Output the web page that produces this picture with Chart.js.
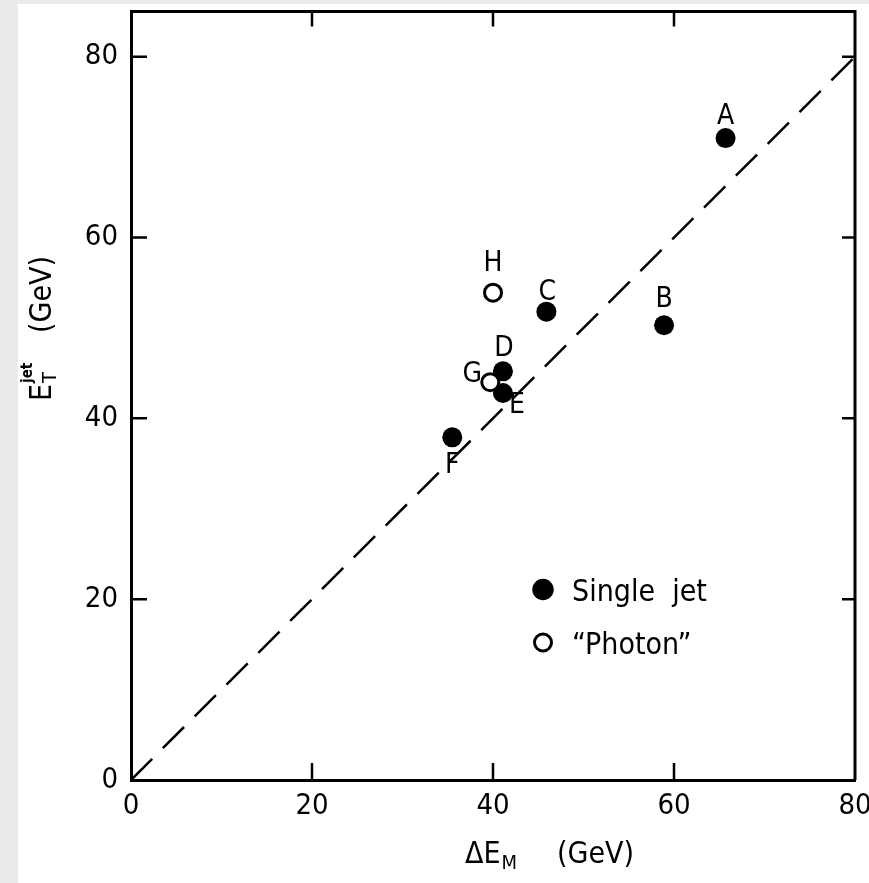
<!DOCTYPE html>
<html>
<head>
<meta charset="utf-8">
<script src="https://cdn.jsdelivr.net/npm/chart.js@4.4.1/dist/chart.umd.min.js"></script>
<style>
  html, body { margin: 0; padding: 0; }
  body { width: 869px; height: 883px; background: #ebebeb; position: relative; overflow: hidden; }
  #panel { position: absolute; left: 18px; top: 4px; right: 0; bottom: 0; background: #fff; }
  #plot { position: absolute; left: 0; top: 0; }
</style>
</head>
<body>
<div id="panel"></div>
<canvas id="plot" width="869" height="883"></canvas>
<script>
// events
const jetNames = ["A", "B", "C", "D", "E", "F"];
const jetX = [65.7, 58.9, 45.9, 41.1, 41.1, 35.5];
const jetY = [71.0, 50.3, 51.8, 45.2, 42.8, 37.9];

const photonNames = ["G", "H"];
const photonX = [39.7, 40.0];
const photonY = [44.0, 53.9];

// the E_T = dE line
const diagX = [0, 80];
const diagY = [0, 80];

const xTicks = [0, 20, 40, 60, 80];
const yTicks = [0, 20, 40, 60, 80];

const FONT = '"Liberation Sans Narrow", "DejaVu Sans Condensed", "Roboto Condensed", sans-serif';

// where each letter sits relative to its point (px)
const labelOffset = {
    A: [0, -21], B: [0, -26], C: [1, -19], D: [1, -23],
    E: [14, 13], F: [0, 28], G: [-18, -7], H: [0, -29]
};

const pts = (xs, ys) => xs.map((x, i) => ({ x: x, y: ys[i] }));

const decorations = {
    id: "decorations",
    afterDatasetsDraw(chart) {
        const ctx = chart.ctx;
        const xs = chart.scales.x, ys = chart.scales.y;
        const a = chart.chartArea;
        ctx.save();
        ctx.strokeStyle = "#000";
        ctx.fillStyle = "#000";

        // top and right frame
        ctx.lineWidth = 3;
        ctx.beginPath();
        ctx.moveTo(a.left, a.top);
        ctx.lineTo(a.right, a.top);
        ctx.lineTo(a.right, a.bottom);
        ctx.stroke();

        // inward tick marks
        ctx.lineWidth = 2.5;
        xTicks.forEach(v => {
            if (v === 0 || v === 80) return;
            const px = xs.getPixelForValue(v);
            ctx.beginPath();
            ctx.moveTo(px, a.bottom); ctx.lineTo(px, a.bottom - 17);
            ctx.moveTo(px, a.top); ctx.lineTo(px, a.top + 15);
            ctx.stroke();
        });
        yTicks.forEach(v => {
            if (v === 0) return;
            const py = ys.getPixelForValue(v);
            ctx.beginPath();
            ctx.moveTo(a.left, py); ctx.lineTo(a.left + 16, py);
            ctx.moveTo(a.right, py); ctx.lineTo(a.right - 13, py);
            ctx.stroke();
        });

        // point letters
        ctx.font = "28px " + FONT;
        ctx.textAlign = "center";
        ctx.textBaseline = "middle";
        const put = (names, X, Y) => names.forEach((n, i) => {
            const o = labelOffset[n];
            ctx.fillText(n, xs.getPixelForValue(X[i]) + o[0], ys.getPixelForValue(Y[i]) + o[1]);
        });
        put(jetNames, jetX, jetY);
        put(photonNames, photonX, photonY);

        // legend
        const lx = a.left + 412, ly1 = a.top + 578, ly2 = a.top + 631;
        Chart.helpers.drawPoint(ctx, { pointStyle: "circle", radius: 9.5, borderWidth: 1 }, lx, ly1);
        ctx.fill();
        ctx.fillStyle = "#fff";
        ctx.lineWidth = 3;
        ctx.beginPath();
        ctx.arc(lx, ly2, 8.5, 0, Math.PI * 2);
        ctx.fill();
        ctx.stroke();
        ctx.fillStyle = "#000";
        ctx.font = "30px " + FONT;
        ctx.textAlign = "left";
        ctx.textBaseline = "alphabetic";
        ctx.fillText("Single  jet", lx + 29, ly1 + 11);
        ctx.fillText("\u201CPhoton\u201D", lx + 29, ly2 + 11);

        // x title: dE_M (GeV)
        const tx = 465, tb = 863;
        ctx.font = "30px " + FONT;
        ctx.fillText("\u0394E", tx, tb);
        let w = ctx.measureText("\u0394E").width;
        ctx.font = "20px " + FONT;
        ctx.fillText("M", tx + w + 1, tb + 6);
        ctx.font = "30px " + FONT;
        ctx.fillText("(GeV)", 557, tb);

        // y title: E_T^jet (GeV), rotated
        ctx.translate(51, 401);
        ctx.rotate(-Math.PI / 2);
        ctx.font = "30px " + FONT;
        ctx.fillText("E", 0, 0);
        w = ctx.measureText("E").width;
        ctx.font = "20px " + FONT;
        ctx.fillText("T", w + 1, 5);
        ctx.font = "bold 15px " + FONT;
        ctx.fillText("jet", w + 1, -19);
        ctx.font = "30px " + FONT;
        ctx.fillText("(GeV)", 68, 0);
        ctx.restore();
    }
};

const tickFont = { family: FONT, size: 29 };

const noPad = s => {
    s.paddingLeft = 0; s.paddingRight = 0;
    s.paddingTop = 0; s.paddingBottom = 0;
};

new Chart(document.getElementById("plot").getContext("2d"), {
    type: "scatter",
    data: {
        datasets: [
            {
                type: "line",
                data: pts(diagX, diagY),
                borderColor: "#000",
                borderWidth: 2.5,
                borderDash: [30, 15],
                pointRadius: 0,
                fill: false,
                order: 3
            },
            {
                label: "Single jet",
                data: pts(jetX, jetY),
                pointRadius: 10,
                pointBackgroundColor: "#000",
                pointBorderColor: "#000",
                pointBorderWidth: 0,
                order: 2
            },
            {
                label: "Photon",
                data: pts(photonX, photonY),
                pointRadius: 8.5,
                pointBackgroundColor: "#fff",
                pointBorderColor: "#000",
                pointBorderWidth: 3,
                order: 1
            }
        ]
    },
    options: {
        responsive: false,
        animation: false,
        events: [],
        layout: { padding: { top: 11, right: 14, left: 0, bottom: 0 } },
        plugins: {
            legend: { display: false },
            tooltip: { enabled: false }
        },
        scales: {
            x: {
                type: "linear",
                min: 0,
                max: 80,
                grid: { display: false, drawTicks: false },
                border: { display: true, color: "#000", width: 3 },
                ticks: { color: "#000", font: tickFont, padding: 9 },
                afterBuildTicks: s => { s.ticks = xTicks.map(v => ({ value: v })); },
                afterFit: s => { s.height = 103; noPad(s); }
            },
            y: {
                type: "linear",
                min: 0,
                max: 85,
                grid: { display: false, drawTicks: false },
                border: { display: true, color: "#000", width: 3 },
                ticks: { color: "#000", font: tickFont, padding: 13 },
                afterBuildTicks: s => { s.ticks = yTicks.map(v => ({ value: v })); },
                afterFit: s => { s.width = 131; noPad(s); }
            }
        }
    },
    plugins: [decorations]
});
</script>
</body>
</html>
